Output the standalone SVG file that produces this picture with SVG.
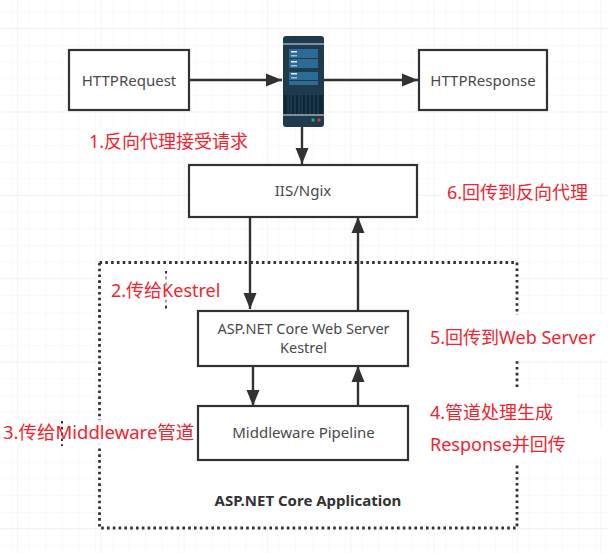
<svg xmlns="http://www.w3.org/2000/svg" width="608" height="553" viewBox="0 0 608 553">
<defs>
<pattern id="grid" width="16.67" height="16.67" patternUnits="userSpaceOnUse" x="-5" y="-5">
<path d="M16.67 0H0V16.67" fill="none" stroke="#f3f3f3" stroke-width="1"/>
</pattern>
<pattern id="gridB" width="83.35" height="83.35" patternUnits="userSpaceOnUse" x="17" y="28">
<path d="M83.35 0H0V83.35" fill="none" stroke="#ebebeb" stroke-width="1"/>
</pattern>
<marker id="arrow" markerWidth="17" markerHeight="15" refX="16" refY="7.500" orient="auto" markerUnits="userSpaceOnUse">
<path d="M0 1L16 7.500L0 14Z" fill="#323232"/>
</marker>
</defs>
<style>
.box{fill:#fff;stroke:#323232;stroke-width:2.2}
.t{font-family:"Noto Sans","Open Sans",sans-serif;font-size:15px;fill:#4a4a4a;text-anchor:middle}
.k{font-size:14.5px}
.r{font-family:"Noto Sans","Noto Sans CJK SC",sans-serif;font-size:18px;fill:#f5222d}
.c{fill:none;stroke:#323232;stroke-width:2.4;marker-end:url(#arrow)}
.d{fill:none;stroke:#333;stroke-width:2.8;stroke-dasharray:2.6 3.2}
.w{fill:#fff}
</style>
<rect width="608" height="553" fill="#fff"/>
<rect width="608" height="553" fill="url(#grid)"/>
<rect width="608" height="553" fill="url(#gridB)"/>
<g id="container">
<rect class="w" x="99.500" y="262.500" width="417.500" height="265.500"/>
<rect width="412" height="260" x="102" y="265" fill="url(#grid)" opacity=".2"/>
<rect class="d" x="99.500" y="262.500" width="417.500" height="265.500"/>
<text x="308" y="506" class="t" style="font-weight:700;fill:#333">ASP.NET Core Application</text>
</g>
<g id="connectors">
<path class="c" d="M189 80H282"/>
<path class="c" d="M323 80H418"/>
<path class="c" d="M302 126V164"/>
<path class="c" d="M250 217V309"/>
<path class="c" d="M358 311V217"/>
<path class="c" d="M253 366V406"/>
<path class="c" d="M358 406V366"/>
</g>
<g id="http-request"><rect class="box" x="69" y="50" width="120" height="60"/><text class="t" x="129" y="86">HTTPRequest</text></g>
<g id="http-response"><rect class="box" x="419" y="50" width="128" height="60"/><text class="t" x="483" y="86">HTTPResponse</text></g>
<g id="server">
<rect x="283" y="36" width="41" height="91" rx="3" fill="#1e3a4c"/>
<rect x="283" y="43" width="41" height="2" fill="#7e8f9b"/>
<rect x="289" y="49" width="29" height="9" fill="#2c6c94"/>
<rect x="289" y="59" width="29" height="9" fill="#2c6c94"/>
<rect x="289" y="72" width="29" height="8" fill="#2c6c94"/>
<rect x="289" y="81" width="29" height="4" fill="#2c6c94"/>
<rect x="291" y="51" width="6" height="1.500" fill="#e4eef4"/>
<rect x="291" y="55" width="6" height="1.500" fill="#9fc0d4"/>
<rect x="291" y="61" width="6" height="1.500" fill="#e4eef4"/>
<rect x="291" y="65" width="6" height="1.500" fill="#9fc0d4"/>
<rect x="291" y="73" width="6" height="1.500" fill="#e4eef4"/>
<rect x="291" y="77" width="6" height="1.500" fill="#9fc0d4"/>
<rect x="284" y="95" width="39" height="19" fill="#0f2636"/>
<path d="M288 95v19M291 95v19M295 95v19M299 95v19M302 95v19M306 95v19M310 95v19M314 95v19M318 95v19" stroke="#2a4a60" stroke-width="1"/>
<rect x="283" y="114" width="41" height="2" fill="#7e8f9b"/>
<circle cx="313" cy="120" r="1.700" fill="#2fa56b"/>
<circle cx="319" cy="120" r="1.700" fill="#d8344a"/>
</g>
<g id="iis"><rect class="box" x="189" y="165" width="228" height="52"/><text class="t" x="303" y="196">IIS/Ngix</text></g>
<g id="kestrel"><rect class="box" x="198" y="311" width="210" height="55"/><text class="t k" x="303.500" y="334">ASP.NET Core Web Server</text><text class="t k" x="303.500" y="353">Kestrel</text></g>
<g id="middleware"><rect class="box" x="198" y="406" width="210" height="54"/><text class="t" x="303.500" y="438">Middleware Pipeline</text></g>
<g id="labels">
<rect class="w" x="81" y="128" width="182" height="27" opacity=".8"/>
<text class="r" x="89" y="148">1.反向代理接受请求</text>
<path class="d" d="M166 271V310" style="stroke-width:2"/>
<rect class="w" x="106" y="277" width="114" height="26" opacity=".55"/>
<text class="r" x="111" y="297">2.传给Kestrel</text>
<rect class="w" x="0" y="420" width="188" height="27" opacity=".9"/>
<path class="d" d="M62 421V446" style="stroke-width:2"/>
<text class="r" x="3" y="439" style="font-size:18.5px">3.传给Middleware管道</text>
<rect class="w" x="428" y="388" width="143" height="77"/>
<rect class="w" x="425" y="427" width="183" height="28"/>
<text class="r" x="430" y="419">4.管道处理生成</text>
<text class="r" x="430" y="451">Response并回传</text>
<rect class="w" x="426" y="315" width="182" height="43"/>
<text class="r" x="430" y="344">5.回传到Web Server</text>
<rect class="w" x="442" y="178" width="150" height="30"/>
<text class="r" x="447" y="199">6.回传到反向代理</text>
</g>
</svg>
